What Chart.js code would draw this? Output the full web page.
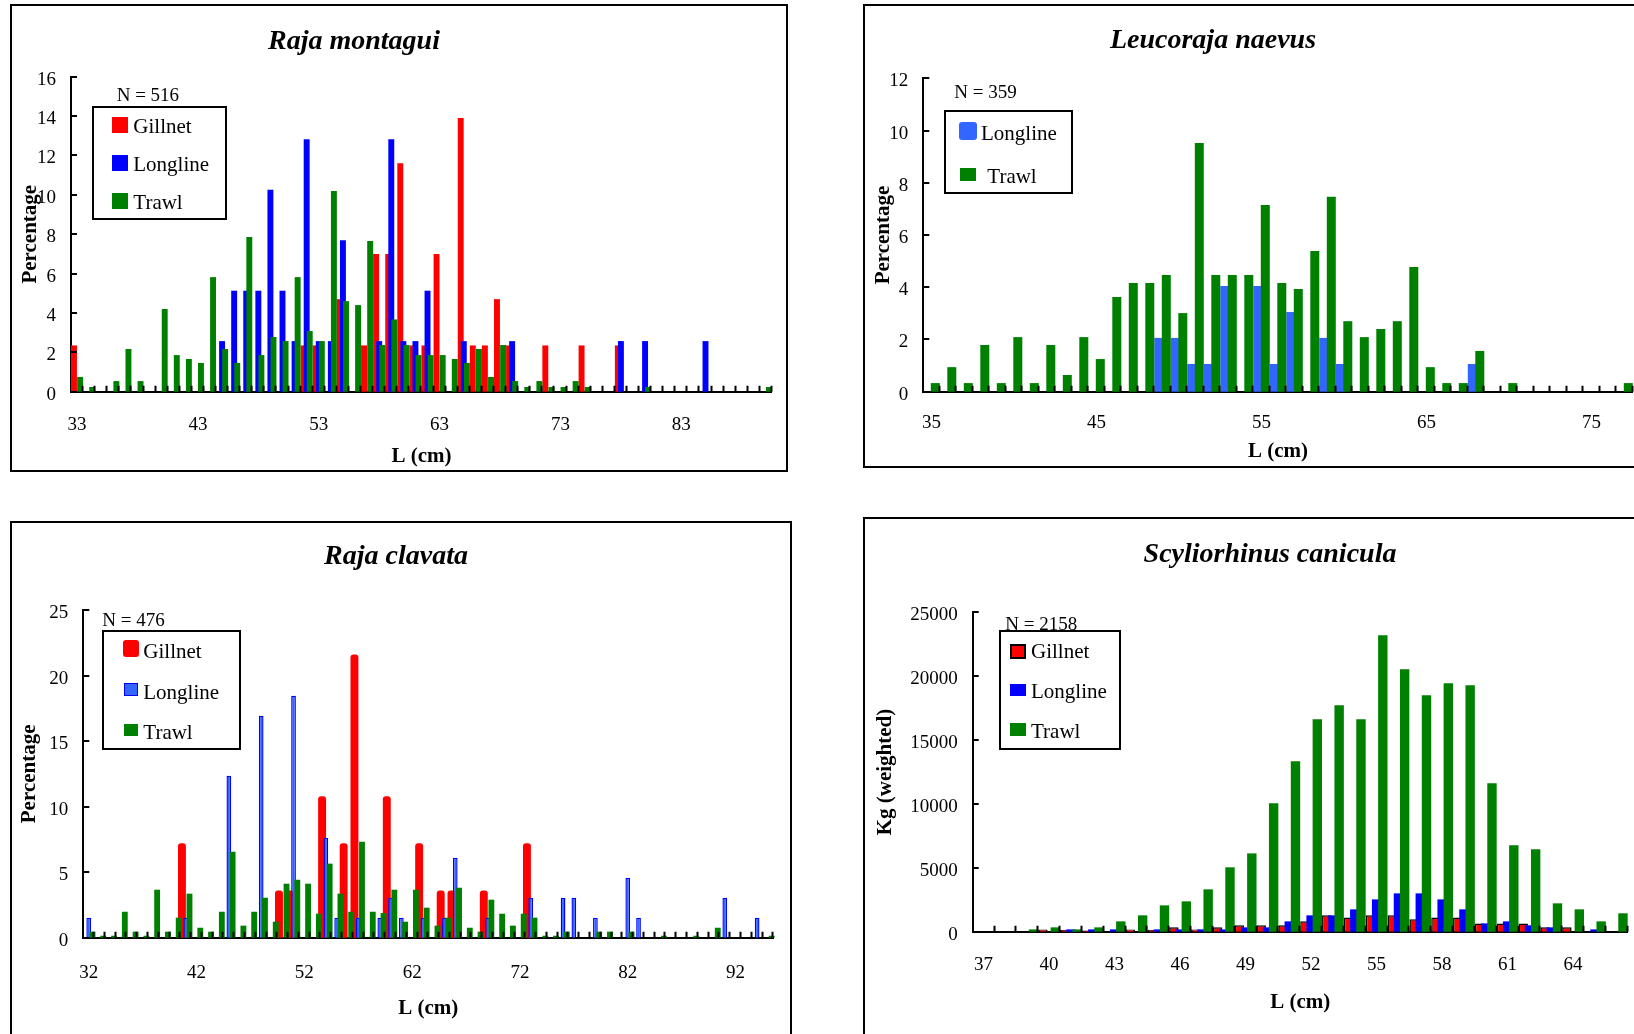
<!DOCTYPE html>
<html>
<head>
<meta charset="utf-8">
<title>Length frequencies by gear</title>
<script src="https://cdn.jsdelivr.net/npm/chart.js@4.4.0/dist/chart.umd.min.js"></script>
<style>
  body { margin: 0; width: 1634px; height: 1034px; overflow: hidden; background: #fff; position: relative;
         font-family: 'Liberation Serif', 'Times New Roman', serif; color: #000; }
  .frame { position: absolute; box-sizing: border-box; border: 2px solid #000; }
  canvas { position: absolute; }
  .title { position: absolute; font-weight: bold; font-style: italic; font-size: 28px; line-height: 1;
           white-space: nowrap; transform: translateX(-50%); }
  .ntext { position: absolute; font-size: 19px; line-height: 1; white-space: nowrap; }
  .legend { position: absolute; box-sizing: border-box; border: 2px solid #000; background: #fff; }
  .legend span { position: absolute; font-size: 21px; line-height: 1; white-space: nowrap; }
  .legend i { position: absolute; box-sizing: border-box; }
</style>
</head>
<body>
<div class="frame" id="f1"></div><div class="frame" id="f2"></div>
<div class="frame" id="f3"></div><div class="frame" id="f4"></div>
<canvas id="c1"></canvas><canvas id="c2"></canvas><canvas id="c3"></canvas><canvas id="c4"></canvas>

<script>
// --- Raja montagui (percentage by length) ---
const montaguiLengths = [33,34,35,36,37,38,39,40,41,42, 43,44,45,46,47,48,49,50,51,52,
  53,54,55,56,57,58,59,60,61,62, 63,64,65,66,67,68,69,70,71,72,
  73,74,75,76,77,78,79,80,81,82, 83,84,85,86,87,88,89,90];
const montaguiTicks = [33, 43, 53, 63, 73, 83];
const montaguiGillnet = [2.35,0,0,0,0,0,0,0,0,0, 0,0,0,0,0,0,0,0,0,2.35,
  2.35,0,4.7,0,2.35,7.0,7.0,11.6,2.35,2.35, 7.0,0,13.9,2.35,2.35,4.7,2.35,0,0,2.35,
  0,0,2.35,0,0,2.35,0,0,0,0, 0,0,0,0,0,0,0,0];
const montaguiLongline = [0,0,0,0,0,0,0,0,0,0, 0,0,2.57,5.13,5.13,5.13,10.26,5.13,2.57,12.82,
  2.57,2.57,7.69,0,0,2.57,12.82,2.57,2.57,5.13, 0,0,2.57,0,0,0,2.57,0,0,0,
  0,0,0,0,0,2.57,0,2.57,0,0, 0,0,2.57,0,0,0,0,0];
const montaguiTrawl = [0.75,0.24,0,0.54,2.17,0.54,0,4.2,1.86,1.66, 1.46,5.82,2.17,1.46,7.86,1.86,2.78,2.57,5.82,3.08,
  2.57,10.2,4.6,4.4,7.65,2.37,3.67,2.37,1.86,1.86, 1.86,1.66,1.46,2.17,0.75,2.37,0.54,0.24,0.54,0.24,
  0.24,0.54,0.24,0,0,0,0,0.24,0,0, 0,0,0,0,0,0,0,0.24];

// --- Leucoraja naevus ---
const naevusLengths = [35,36,37,38,39,40,41,42,43,44, 45,46,47,48,49,50,51,52,53,54,
  55,56,57,58,59,60,61,62,63,64, 65,66,67,68,69,70,71,72,73,74, 75,76,77];
const naevusTicks = [35, 45, 55, 65, 75];
const naevusLongline = [0,0,0,0,0,0,0,0,0,0, 0,0,0,0,2.06,2.06,1.06,1.06,4.05,0,
  4.05,1.06,3.05,0,2.06,1.06,0,0,0,0, 0,0,0,1.06,0,0,0,0,0,0, 0,0,0];
const naevusTrawl = [0.33,0.94,0.33,1.79,0.33,2.09,0.33,1.79,0.64,2.09, 1.25,3.63,4.16,4.16,4.47,3.01,9.52,4.47,4.47,4.47,
  7.15,4.16,3.93,5.39,7.46,2.7,2.09,2.4,2.7,4.77, 0.94,0.33,0.33,1.56,0,0.33,0,0,0,0, 0,0,0.33];

// --- Raja clavata ---
const clavataLengths = [32,33,34,35,36,37,38,39,40,41, 42,43,44,45,46,47,48,49,50,51,
  52,53,54,55,56,57,58,59,60,61, 62,63,64,65,66,67,68,69,70,71,
  72,73,74,75,76,77,78,79,80,81, 82,83,84,85,86,87,88,89,90,91, 92,93,94,95];
const clavataTicks = [32, 42, 52, 62, 72, 82, 92];
const clavataGillnet = [0,0,0,0,0,0,0,0,0,7.2, 0,0,0,0,0,0,0,0,3.6,3.6,
  0,0,10.8,0,7.2,21.6,0,0,10.8,0, 0,7.2,0,3.6,3.6,0,0,3.6,0,0,
  0,7.2,0,0,0,0,0,0,0,0, 0,0,0,0,0,0,0,0,0,0, 0,0,0,0];
const clavataLongline = [1.53,0,0,0,0,0,0,0,0,1.53, 0,0,0,12.36,0,0,16.94,0,0,18.46,
  0,0,7.63,1.53,0,1.53,0,1.53,3.05,1.53, 0,1.53,0,1.53,6.1,0,0,1.53,0,0,
  0,3.05,0,0,3.05,3.05,0,1.53,0,0, 4.58,1.53,0,0,0,0,0,0,0,3.05, 0,0,1.53,0];
const clavataTrawl = [0.46,0.15,0.15,1.98,0.46,0.15,3.66,0.46,1.53,3.36, 0.76,0.46,1.98,6.56,0.92,1.98,3.05,1.22,4.12,4.42,
  4.12,1.83,5.65,3.36,1.98,7.32,1.98,1.88,3.66,1.22, 3.66,2.29,0.92,1.53,3.81,0.76,0.46,2.9,1.83,0.92,
  1.83,1.53,0.15,0.15,0.46,0,0,0.46,0.46,0, 0.46,0,0,0.15,0,0,0.15,0,0.76,0, 0,0,0,0.15];

// --- Scyliorhinus canicula (kg, weighted) ---
const caniculaLengths = [37,38,39,40,41,42,43,44,45,46, 47,48,49,50,51,52,53,54,55,56,
  57,58,59,60,61,62,63,64,65,66];
const caniculaTicks = [37, 40, 43, 46, 49, 52, 55, 58, 61, 64];
const caniculaGillnet = [0,0,0,180,150,100,0,180,150,340, 180,340,500,500,500,810,1280,1120,1280,1280,
  970,1120,1120,650,650,650,340,340,0,0];
const caniculaLongline = [0,0,0,0,180,180,180,0,180,180, 180,180,340,340,810,1280,1280,1750,2530,3000,
  3000,2530,1750,650,810,500,340,0,180,0];
const caniculaTrawl = [0,0,180,340,180,340,810,1280,2060,2375, 3315,5040,6130,10050,13340,16630,17720,16630,23200,20540,
  18500,19440,19290,11610,6760,6450,2220,1750,810,1440];

document.addEventListener('DOMContentLoaded', () => {

    // --- Styles ---
    const RED = '#ff0000';
    const BLUE = '#0000ff';
    const LIGHT_BLUE = '#3366ff';
    const GREEN = '#008000';
    const serif = "'Liberation Serif', 'Times New Roman', serif";
    const tickFont = { family: serif, size: 19 };
    const axisFont = { family: serif, size: 21, weight: 'bold' };

    /** Draw later series on top (Excel style overlap) **/
    const drawOrder = {
        id: 'drawOrder',
        beforeDatasetsDraw(chart) {
            chart.getSortedVisibleDatasetMetas().forEach(meta => meta.controller.draw());
            return false;
        }
    };

    /** Short tick marks pointing into the plot **/
    const innerTicks = {
        id: 'innerTicks',
        afterDraw(chart) {
            const { ctx, chartArea: a, scales: { y } } = chart;
            const n = chart.data.labels.length;
            ctx.save();
            ctx.strokeStyle = '#000';
            ctx.lineWidth = 2;
            ctx.beginPath();
            for (let i = 1; i <= n; i++) {
                const px = Math.round(a.left + (a.right - a.left) * i / n) - 0.5;
                ctx.moveTo(px, a.bottom);
                ctx.lineTo(px, a.bottom - 6);
            }
            y.ticks.forEach(t => {
                const py = Math.round(y.getPixelForValue(t.value));
                ctx.moveTo(a.left, py);
                ctx.lineTo(a.left + 6, py);
            });
            ctx.stroke();
            ctx.restore();
        }
    };

    /** Build one panel **/
    function drawPanel(p) {
        const frame = document.getElementById(p.frameId);
        Object.assign(frame.style, {
            left: p.box.l + 'px', top: p.box.t + 'px',
            width: (p.box.r - p.box.l) + 'px', height: (p.box.b - p.box.t) + 'px'
        });

        const canvas = document.getElementById(p.canvasId);
        const W = p.box.r - p.box.l, H = p.box.b - p.box.t;
        canvas.width = W;
        canvas.height = H;
        canvas.style.left = p.box.l + 'px';
        canvas.style.top = p.box.t + 'px';
        const aL = p.area.l - p.box.l, aT = p.area.t - p.box.t;
        const aR = p.area.r - p.box.l, aB = p.area.b - p.box.t;

        new Chart(canvas, {
            type: 'bar',
            data: {
                labels: p.labels,
                datasets: p.series.map(s => ({
                    label: s.name,
                    data: s.data,
                    backgroundColor: s.fill,
                    borderColor: s.line || s.fill,
                    borderWidth: s.lineWidth || 0,
                    borderRadius: s.radius || 0,
                    barPercentage: s.barPct,
                    categoryPercentage: p.catPct
                }))
            },
            options: {
                responsive: false,
                animation: false,
                devicePixelRatio: 1,
                events: [],
                layout: { padding: { left: 0, top: aT, right: W - aR, bottom: 0 } },
                plugins: { legend: { display: false }, tooltip: { enabled: false }, title: { display: false } },
                scales: {
                    x: {
                        z: 1,
                        grid: { display: false, drawTicks: false },
                        border: { color: '#000', width: 2 },
                        ticks: {
                            autoSkip: false, maxRotation: 0, padding: p.xPad, color: '#000', font: tickFont,
                            callback: (v, i) => p.ticks.includes(p.labels[i]) ? String(p.labels[i]) : ''
                        },
                        title: { display: true, text: 'L (cm)', color: '#000', font: axisFont,
                                 padding: { top: 0, bottom: p.xTitlePad } },
                        afterFit: scale => { scale.height = H - aB; }
                    },
                    y: {
                        z: 1,
                        min: 0,
                        max: p.yMax,
                        grid: { display: false, drawTicks: false },
                        border: { color: '#000', width: 2 },
                        ticks: { stepSize: p.yStep, padding: 15, labelOffset: 3, color: '#000', font: tickFont,
                                 callback: v => String(v) },
                        title: { display: true, text: p.yTitle, color: '#000', font: axisFont,
                                 padding: { top: p.yTitlePad, bottom: 0 } },
                        afterFit: scale => { scale.width = aL; }
                    }
                }
            },
            plugins: [drawOrder, innerTicks]
        });

        // title, N and legend as page text
        const title = document.createElement('div');
        title.className = 'title';
        title.textContent = p.title;
        title.style.left = p.titlePos[0] + 'px';
        title.style.top = (p.titlePos[1] - 23.5) + 'px';
        document.body.appendChild(title);

        const nText = document.createElement('div');
        nText.className = 'ntext';
        nText.textContent = p.nText;
        nText.style.left = p.nPos[0] + 'px';
        nText.style.top = (p.nPos[1] - 16) + 'px';
        document.body.appendChild(nText);

        const lg = p.legend;
        const box = document.createElement('div');
        box.className = 'legend';
        Object.assign(box.style, { left: lg.box[0] + 'px', top: lg.box[1] + 'px',
                                   width: lg.box[2] + 'px', height: lg.box[3] + 'px' });
        lg.items.forEach((it, i) => {
            const s = p.series[i];
            const sw = document.createElement('i');
            Object.assign(sw.style, {
                left: (it.sw[0] - lg.box[0] - 2) + 'px', top: (it.sw[1] - lg.box[1]) + 'px',
                width: it.sw[2] + 'px', height: it.sw[3] + 'px', background: s.fill,
                borderRadius: (it.round || 0) + 'px',
                border: s.lineWidth ? `${s.lineWidth + 0.5}px solid ${s.line}` : 'none'
            });
            const tx = document.createElement('span');
            tx.textContent = s.name;
            tx.style.left = (it.tx - lg.box[0] - 2) + 'px';
            tx.style.top = (it.cy - lg.box[1] - 10) + 'px';
            box.appendChild(sw);
            box.appendChild(tx);
        });
        document.body.appendChild(box);
    }

    // --- Panels ---
    drawPanel({
        frameId: 'f1', canvasId: 'c1',
        box: { l: 10, t: 4, r: 788, b: 472 }, area: { l: 71, t: 76.7, r: 780, b: 391.7 },
        labels: montaguiLengths, ticks: montaguiTicks, catPct: 0.761,
        series: [
            { name: 'Gillnet', data: montaguiGillnet, fill: RED, barPct: 1.935 },
            { name: 'Longline', data: montaguiLongline, fill: BLUE, barPct: 1.935 },
            { name: 'Trawl', data: montaguiTrawl, fill: GREEN, barPct: 1.935 }
        ],
        yMax: 16, yStep: 2, yTitle: 'Percentage', yTitlePad: 7.5, xPad: 22, xTitlePad: 3,
        title: 'Raja montagui', titlePos: [354, 49], nText: 'N = 516', nPos: [116.7, 100.5],
        legend: { box: [92.3, 105.7, 134.7, 114.6], items: [
            { sw: [112.3, 115, 15.7, 15.7], tx: 133.3, cy: 124 },
            { sw: [112.3, 153.5, 15.7, 15.7], tx: 133.3, cy: 162 },
            { sw: [112.3, 191.5, 15.7, 15.7], tx: 133.3, cy: 200 }
        ] }
    });

    drawPanel({
        frameId: 'f2', canvasId: 'c2',
        box: { l: 863, t: 4, r: 1645, b: 468 }, area: { l: 923.3, t: 78.3, r: 1632.8, b: 391.7 },
        labels: naevusLengths, ticks: naevusTicks, catPct: 0.909,
        series: [
            { name: 'Longline', data: naevusLongline, fill: LIGHT_BLUE, barPct: 1.2 },
            { name: 'Trawl', data: naevusTrawl, fill: GREEN, barPct: 1.2 }
        ],
        yMax: 12, yStep: 2, yTitle: 'Percentage', yTitlePad: 7.5, xPad: 20, xTitlePad: 4,
        title: 'Leucoraja naevus', titlePos: [1213, 48], nText: 'N = 359', nPos: [954.3, 98],
        legend: { box: [944.3, 110, 129, 84.3], items: [
            { sw: [959, 120, 17.7, 17.7], tx: 981, cy: 130.5, round: 3 },
            { sw: [960, 166, 16, 12.7], tx: 987.3, cy: 173.5 }
        ] }
    });

    drawPanel({
        frameId: 'f3', canvasId: 'c3',
        box: { l: 10, t: 521, r: 792, b: 1040 }, area: { l: 83.3, t: 610, r: 780, b: 937.7 },
        labels: clavataLengths, ticks: clavataTicks, catPct: 1.05,
        series: [
            { name: 'Gillnet', data: clavataGillnet, fill: RED, barPct: 2.1, radius: 3 },
            { name: 'Longline', data: clavataLongline, fill: LIGHT_BLUE, line: BLUE, lineWidth: 1.4, barPct: 1.25 },
            { name: 'Trawl', data: clavataTrawl, fill: GREEN, barPct: 1.55 }
        ],
        yMax: 25, yStep: 5, yTitle: 'Percentage', yTitlePad: 7, xPad: 24, xTitlePad: 18.5,
        title: 'Raja clavata', titlePos: [396, 564.5], nText: 'N = 476', nPos: [102.3, 626],
        legend: { box: [102.3, 630, 139, 120], items: [
            { sw: [123.3, 638.3, 15.4, 17], tx: 143.3, cy: 649, round: 3 },
            { sw: [124.3, 681, 13.4, 13.3], tx: 143.3, cy: 689.5 },
            { sw: [124.3, 721.7, 13.4, 12.6], tx: 143.3, cy: 729.5 }
        ] }
    });

    drawPanel({
        frameId: 'f4', canvasId: 'c4',
        box: { l: 863, t: 517, r: 1645, b: 1040 }, area: { l: 972.7, t: 612.3, r: 1627.7, b: 931.7 },
        labels: caniculaLengths, ticks: caniculaTicks, catPct: 0.852,
        series: [
            { name: 'Gillnet', data: caniculaGillnet, fill: RED, line: '#000', lineWidth: 1.5, barPct: 1.516 },
            { name: 'Longline', data: caniculaLongline, fill: BLUE, barPct: 1.516 },
            { name: 'Trawl', data: caniculaTrawl, fill: GREEN, barPct: 1.516 }
        ],
        yMax: 25000, yStep: 5000, yTitle: 'Kg (weighted)', yTitlePad: 10, xPad: 22, xTitlePad: 25,
        title: 'Scyliorhinus canicula', titlePos: [1270, 562.5], nText: 'N = 2158', nPos: [1005.3, 630],
        legend: { box: [998.7, 630, 122.3, 120], items: [
            { sw: [1010, 642, 15.7, 14.7], tx: 1031, cy: 649 },
            { sw: [1010, 681.7, 15.7, 12.6], tx: 1031, cy: 688.5 },
            { sw: [1010, 721.3, 15.7, 13], tx: 1031, cy: 728.5 }
        ] }
    });

});
</script>
</body>
</html>
